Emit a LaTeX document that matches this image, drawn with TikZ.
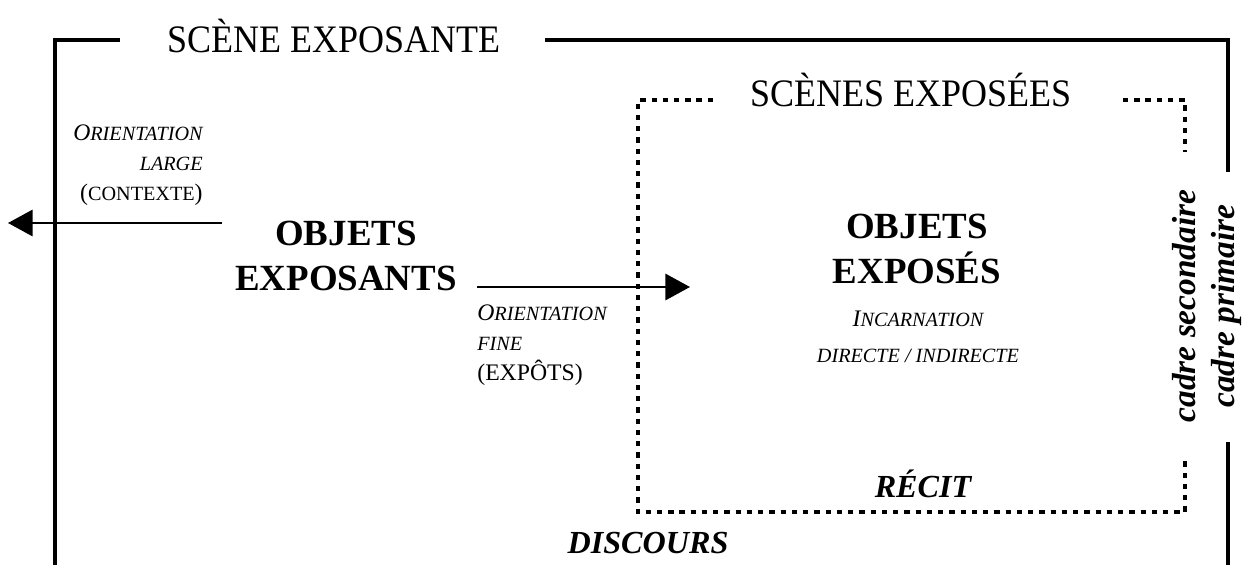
\documentclass[tikz,border=0pt]{standalone}
\usepackage{fontspec}
\setmainfont{Liberation Serif}
\usetikzlibrary{arrows.meta}

% petites capitales simulees
\newcommand{\petitcap}[1]{{\fontsize{11.5}{17}\selectfont #1}}
\newcommand{\fauxsc}[2]{{\fontsize{13.5}{17}\selectfont #1}\petitcap{#2}}

\begin{document}
\begin{tikzpicture}[x=0.02cm, y=-0.02cm, >={Triangle[length=14pt,width=15pt]},
    cadre/.style={line width=2.8pt},
    pointille/.style={line width=2.8pt, dash pattern=on 3pt off 3.4pt},
    fleche/.style={line width=1.1pt, ->},
    titre/.style={font=\fontsize{20.5}{24}\selectfont, inner sep=0pt, anchor=base, yscale=1.08},
    objet/.style={font=\bfseries\fontsize{21}{25.6}\selectfont, align=center, inner sep=0pt, anchor=base},
    note/.style={font=\itshape\fontsize{13.5}{17}\selectfont, inner sep=0pt},
    grasit/.style={font=\bfseries\itshape\fontsize{18.3}{22}\selectfont, inner sep=0pt, anchor=base},
    vertical/.style={font=\bfseries\itshape\fontsize{19}{22}\selectfont, inner sep=0pt, rotate=90}]
    \useasboundingbox (0,0) rectangle (1242,565);

    % scene exposante (cadre primaire)
    \draw [cadre] (120,40) -- (55,40) -- (55,565);
    \draw [cadre] (545,40) -- (1228,40) -- (1228,172);
    \draw [cadre] (1228,442) -- (1228,565);
    \node [titre] (scene) at (334,52) {SCÈNE EXPOSANTE};

    % scenes exposees (cadre secondaire)
    \draw [pointille] (713,100) -- (638,100) -- (638,512) -- (1185,512) -- (1185,458);
    \draw [pointille] (1123,100) -- (1185,100) -- (1185,152);
    \node [titre] (scenes) at (911,106) {SCÈNES EXPOSÉES};

    % base = ligne de base de la derniere ligne
    \node [objet] (exposants) at (346,290) {OBJETS\\EXPOSANTS};
    \node [objet] (exposes) at (917,283) {OBJETS\\EXPOSÉS};

    \node [note, anchor=base east, align=right] (large) at (203,200)
        {\fauxsc{O}{RIENTATION}\\\petitcap{LARGE}\\{\upshape(\petitcap{CONTEXTE})}};
    \node [note, anchor=base west, align=left] (fine) at (477,380)
        {\fauxsc{O}{RIENTATION}\\\petitcap{FINE}\\{\upshape(EXPÔTS)}};
    \node [note, anchor=base, align=center, font=\itshape\fontsize{13.5}{20}\selectfont] (incarnation) at (918,362)
        {\fauxsc{I}{NCARNATION}\\\petitcap{DIRECTE / INDIRECTE}};

    \coordinate (contexte) at (8,223);
    \coordinate (depart) at (222,223);
    \draw [fleche] (depart) -- (contexte);
    \coordinate (sortie) at (477,287);
    \coordinate (entree) at (690,287);
    \draw [fleche] (sortie) -- (entree);

    %%%%%%%%%%%%%%%%%%%%
    \node [grasit] (recit) at (923,497) {RÉCIT};
    \node [grasit] (discours) at (648,553) {DISCOURS};
    \node [vertical] (secondaire) at (1184,306) {cadre secondaire};
    \node [vertical] (primaire) at (1226,306) {cadre primaire};
\end{tikzpicture}
\end{document}
